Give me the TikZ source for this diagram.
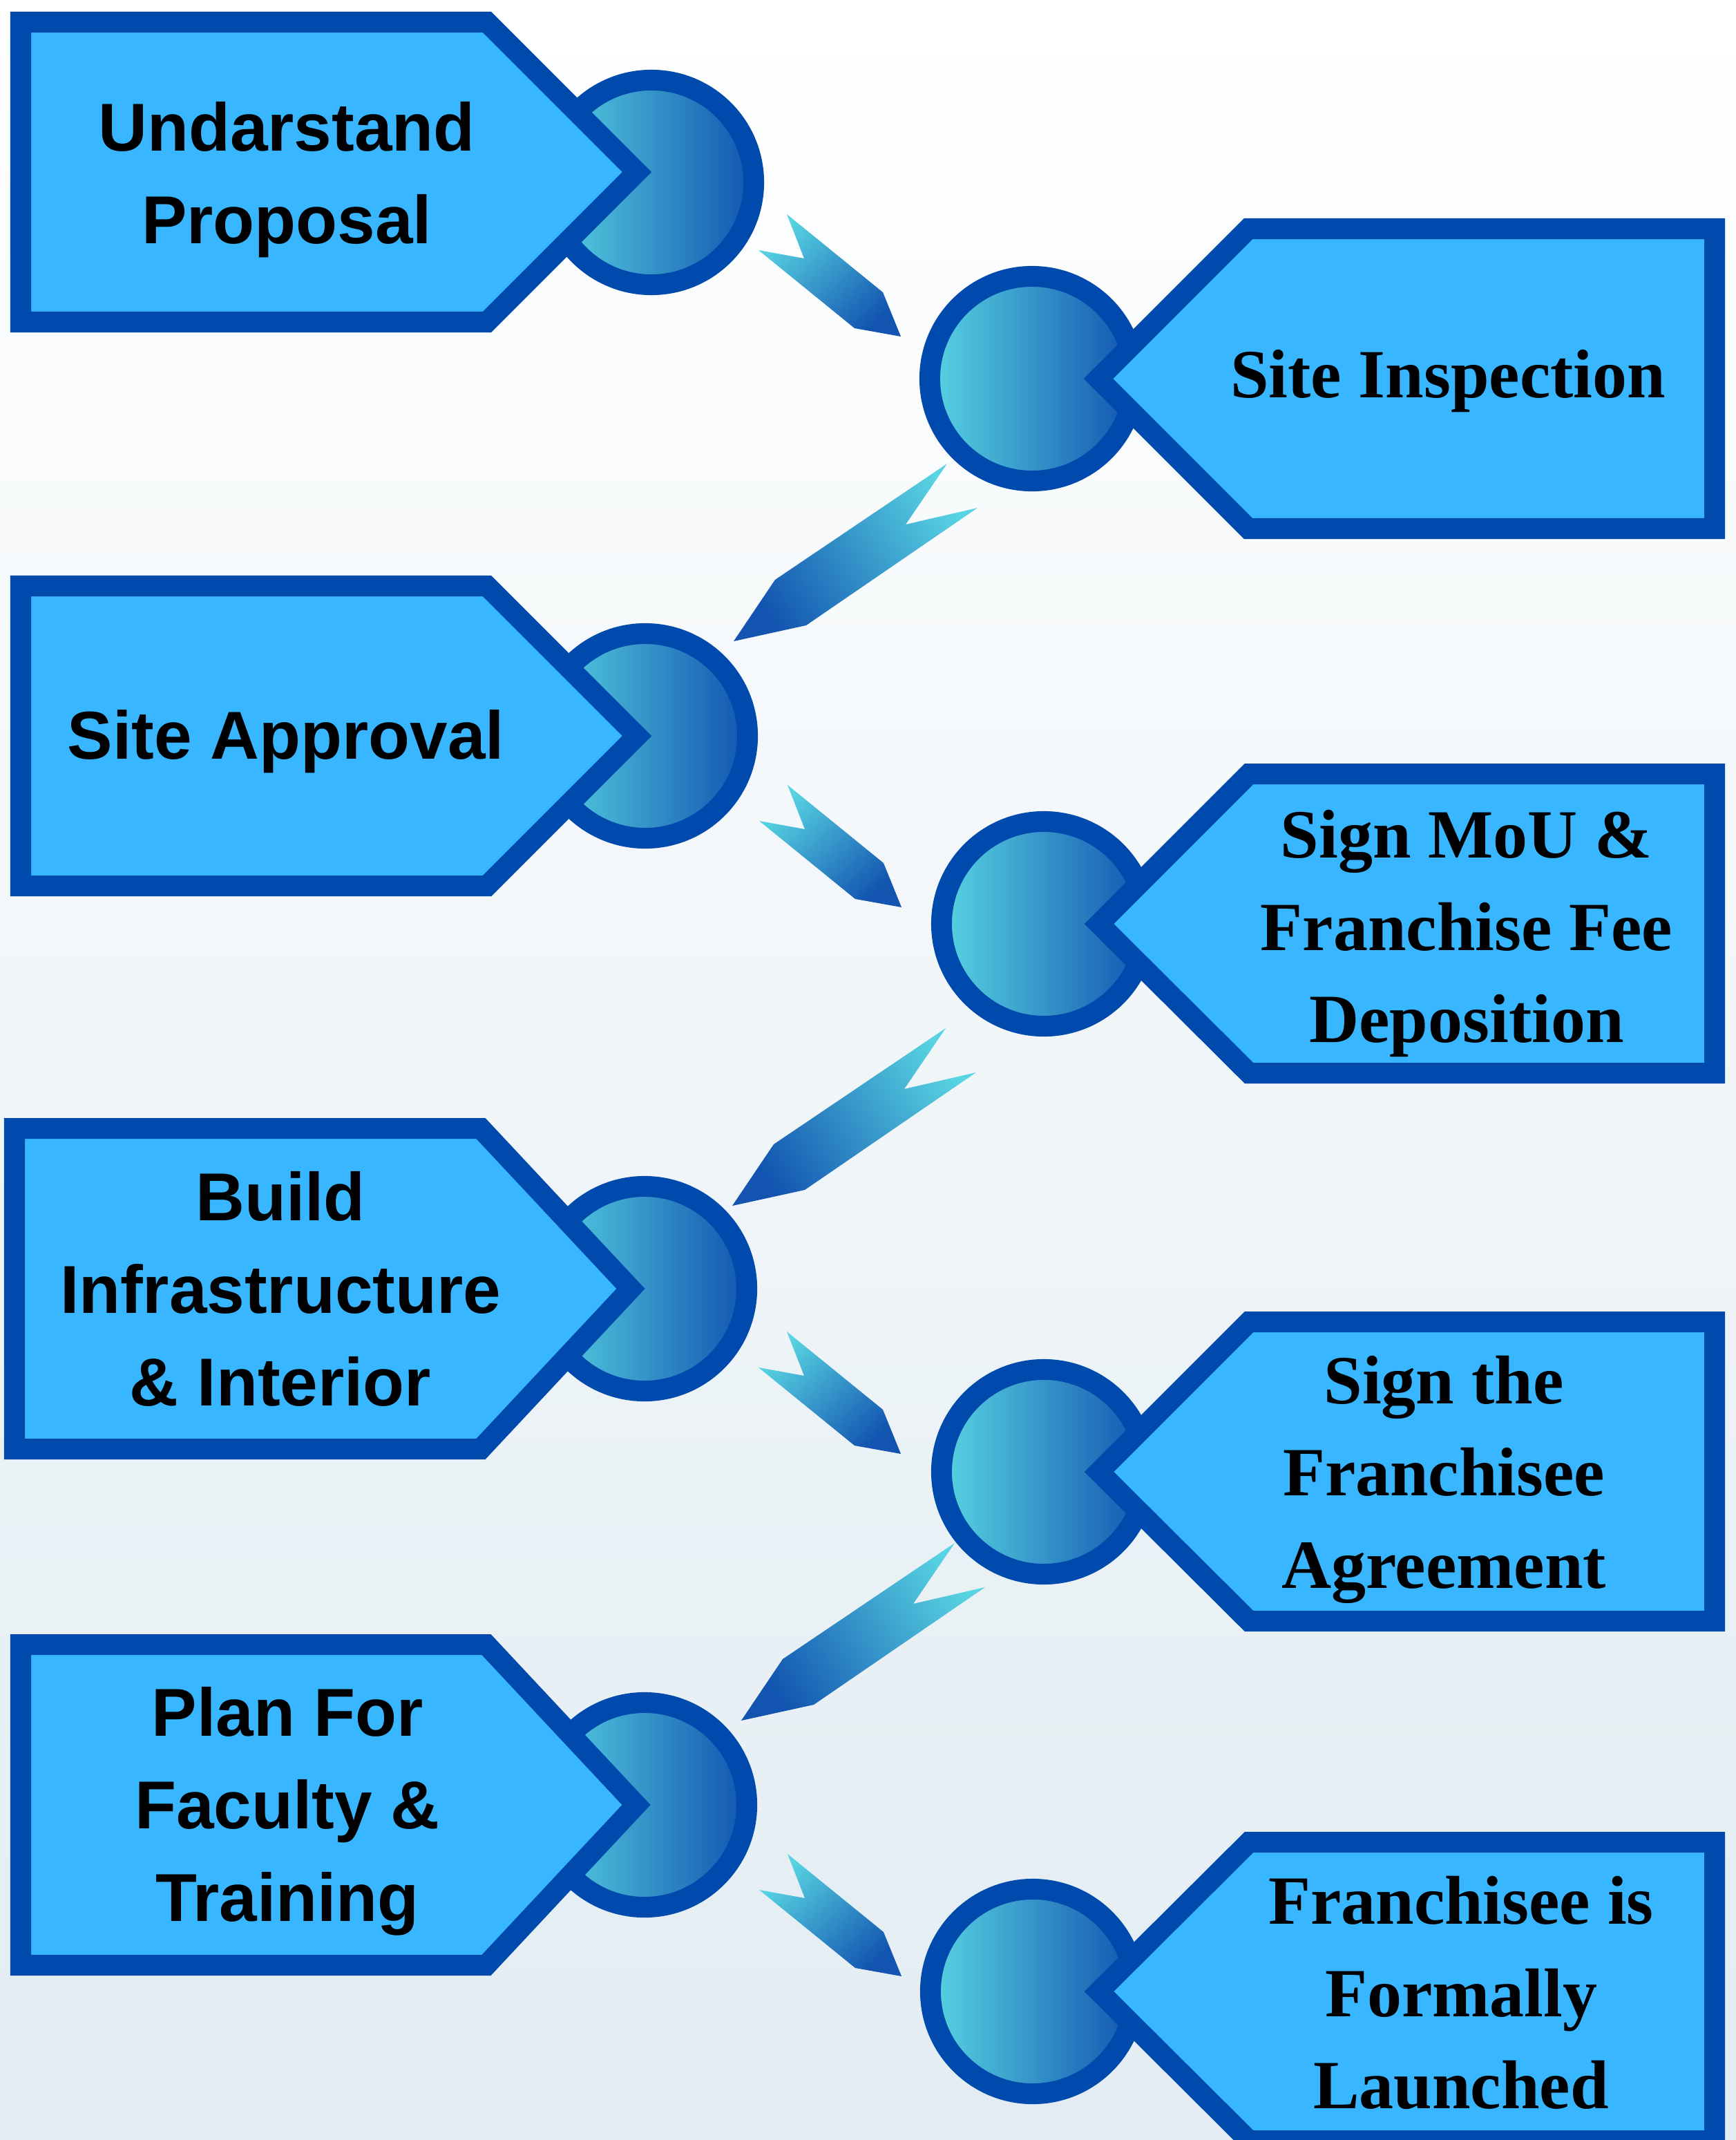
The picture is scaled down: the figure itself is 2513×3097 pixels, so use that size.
\documentclass[tikz,border=0pt]{standalone}
\usepackage{fontspec}
\newfontfamily\stepsans{Liberation Sans}
\newfontfamily\stepserif{Liberation Serif}
\definecolor{stepfill}{RGB}{56,182,255}
\definecolor{stepedge}{RGB}{0,74,173}
\definecolor{dotcyan}{RGB}{88,212,226}
\definecolor{dotdark}{RGB}{18,84,176}
\definecolor{bgmiddle}{RGB}{244,249,252}
\definecolor{bgbottom}{RGB}{226,236,242}
\usetikzlibrary{calc}

\begin{document}
\begin{tikzpicture}[x=0.01cm, y=-0.01cm,
  stepbox/.style={draw=stepedge, fill=stepfill, line width=3mm},
  stepdot/.style={circle, draw=stepedge, line width=3mm, inner sep=0pt, minimum size=2.96cm, left color=dotcyan, right color=dotdark},
  lefttext/.style={align=center, font=\stepsans\bfseries\fontsize{27.9pt}{38.1pt}\selectfont},
  righttext/.style={align=center, font=\stepserif\bfseries\fontsize{28.4pt}{38pt}\selectfont},
  fwdarrow/.style={top color=dotcyan, bottom color=dotdark, shading angle=43},
  backarrow/.style={top color=dotcyan, bottom color=dotdark, shading angle=-57}]
\useasboundingbox (0,0) rectangle (2513,3097);
\clip (0,0) rectangle (2513,3097);
\shade[top color=white, middle color=bgmiddle, bottom color=bgbottom] (0,0) rectangle (2513,3097);

% Circles behind the steps
\node[stepdot] (lc1) at (943,264) {};
\node[stepdot] (lc2) at (934,1065) {};
\node[stepdot] (lc3) at (933,1865) {};
\node[stepdot] (lc4) at (933,2612) {};
\node[stepdot] (rc1) at (1494,548) {};
\node[stepdot] (rc2) at (1511,1337) {};
\node[stepdot] (rc3) at (1511,2130) {};
\node[stepdot] (rc4) at (1495,2882) {};

% Left steps
\draw[stepbox] (30,32) -- (705,32) -- (922,249) -- (705,466) -- (30,466) -- cycle;
\node[lefttext] (undarstand) at (415,260) {Undarstand\\Proposal};

\draw[stepbox] (30,848) -- (705,848) -- (922,1065) -- (705,1282) -- (30,1282) -- cycle;
\node[lefttext] (approval) at (414,1073) {Site Approval};

\draw[stepbox] (21,1633) -- (696,1633) -- (913,1865) -- (696,2097) -- (21,2097) -- cycle;
\node[lefttext] (infra) at (406,1865) {Build\\Infrastructure\\\& Interior};

\draw[stepbox] (30,2380) -- (704,2380) -- (921,2612) -- (704,2844) -- (30,2844) -- cycle;
\node[lefttext] (faculty) at (416,2621) {Plan For\\Faculty \&\\Training};

% Right steps
\draw[stepbox] (1590,548) -- (1807,331) -- (2482,331) -- (2482,765) -- (1807,765) -- cycle;
\node[righttext] (inspection) at (2096,551) {Site Inspection};

\draw[stepbox] (1591,1337) -- (1808,1120) -- (2482,1120) -- (2482,1553) -- (1808,1553) -- cycle;
\node[righttext] (mou) at (2123,1351) {Sign MoU \&\\Franchise Fee\\Deposition};

\draw[stepbox] (1591,2130) -- (1808,1913) -- (2482,1913) -- (2482,2346) -- (1808,2346) -- cycle;
\node[righttext] (agreement) at (2090,2141) {Sign the\\Franchisee\\Agreement};

\draw[stepbox] (1591,2882) -- (1808,2666) -- (2482,2666) -- (2482,3098) -- (1808,3098) -- cycle;
\node[righttext] (launched) at (2115,2884) {Franchisee is\\Formally\\Launched};

% Arrows down to the right
\shade[fwdarrow] ($(lc1)+(196,46)$) -- ++(139,113) -- ++(26,64) -- ++(-67,-12) -- ++(-139,-113) -- ++(66,12) -- cycle;
\shade[fwdarrow] ($(lc2)+(206,71)$) -- ++(139,113) -- ++(26,64) -- ++(-67,-12) -- ++(-139,-113) -- ++(66,12) -- cycle;
\shade[fwdarrow] ($(lc3)+(206,62)$) -- ++(139,113) -- ++(26,64) -- ++(-67,-12) -- ++(-139,-113) -- ++(66,12) -- cycle;
\shade[fwdarrow] ($(lc4)+(207,71)$) -- ++(139,113) -- ++(26,64) -- ++(-67,-12) -- ++(-139,-113) -- ++(66,12) -- cycle;

% Arrows back to the left
\shade[backarrow] ($(rc1)+(-123,123)$) -- ++(-60,88) -- ++(104,-24) -- ++(-248,170) -- ++(-105,23) -- ++(60,-89) -- cycle;
\shade[backarrow] ($(rc2)+(-142,151)$) -- ++(-60,88) -- ++(104,-24) -- ++(-248,170) -- ++(-105,23) -- ++(60,-89) -- cycle;
\shade[backarrow] ($(rc3)+(-129,103)$) -- ++(-60,88) -- ++(104,-24) -- ++(-248,170) -- ++(-105,23) -- ++(60,-89) -- cycle;
\end{tikzpicture}
\end{document}
